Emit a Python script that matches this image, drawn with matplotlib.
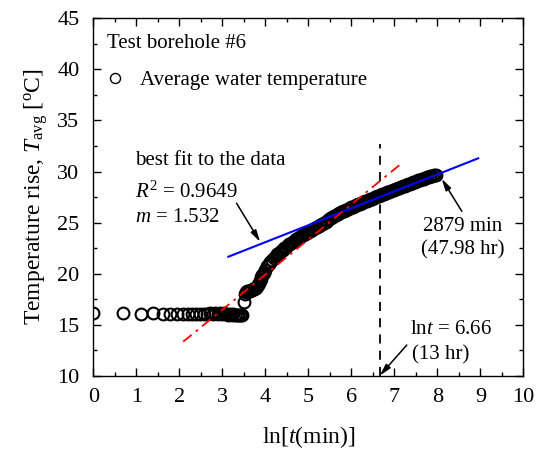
import numpy as np
import matplotlib
matplotlib.use("Agg")
import matplotlib.pyplot as plt
from matplotlib.ticker import MultipleLocator

# ================== data ==================
# early readings, one per minute (t = 1..33 min)
t_early = list(range(1, 34))
temp_early = [16.1, 16.1, 16.0, 16.1, 16.0, 16.0, 16.0, 16.0, 16.0, 16.0,
              16.0, 16.0, 16.0, 16.0, 16.1, 16.0, 16.1, 16.0, 16.1, 16.0,
              16.1, 16.0, 15.9, 16.0, 15.9, 16.0, 15.9, 15.9, 15.9, 15.9,
              15.9, 15.9, 17.2]

lnt_late = [3.53, 3.56, 3.58, 3.61, 3.64, 3.66, 3.69, 3.71, 3.74, 3.76,
            3.78, 3.81, 3.83, 3.85, 3.87, 3.89, 3.91, 3.93, 3.96, 4.00,
            4.04, 4.08, 4.12, 4.16, 4.20, 4.24, 4.28, 4.32, 4.36, 4.40,
            4.44, 4.48, 4.52, 4.56, 4.60, 4.64, 4.68, 4.72, 4.76, 4.80,
            4.84, 4.88, 4.92, 4.96, 5.00, 5.04, 5.08, 5.12, 5.16, 5.20,
            5.24, 5.28, 5.32, 5.36, 5.40, 5.44, 5.48, 5.52, 5.56, 5.60,
            5.64, 5.68, 5.72, 5.76, 5.80, 5.84, 5.88, 5.92, 5.96, 6.00,
            6.04, 6.08, 6.12, 6.16, 6.20, 6.24, 6.28, 6.32, 6.36, 6.40,
            6.44, 6.48, 6.52, 6.56, 6.60, 6.64, 6.68, 6.72, 6.76, 6.80,
            6.84, 6.88, 6.92, 6.96, 7.00, 7.04, 7.08, 7.12, 7.16, 7.20,
            7.24, 7.28, 7.32, 7.36, 7.40, 7.44, 7.48, 7.52, 7.56, 7.60,
            7.64, 7.68, 7.72, 7.76, 7.80, 7.84, 7.88, 7.92, 7.965]
temp_late = [18.0, 18.2, 18.3, 18.3, 18.3, 18.4, 18.4, 18.5, 18.5, 18.6,
             18.6, 18.8, 18.9, 19.1, 19.3, 19.5, 19.7, 19.9, 20.1, 20.4,
             20.7, 20.9, 21.1, 21.3, 21.5, 21.7, 21.9, 22.0, 22.2, 22.3,
             22.5, 22.6, 22.8, 22.9, 23.0, 23.1, 23.3, 23.4, 23.5, 23.6,
             23.7, 23.8, 23.9, 24.0, 24.1, 24.2, 24.3, 24.4, 24.5, 24.6,
             24.7, 24.8, 24.9, 25.0, 25.1, 25.2, 25.3, 25.4, 25.5, 25.6,
             25.7, 25.8, 25.9, 26.0, 26.1, 26.1, 26.2, 26.3, 26.4, 26.5,
             26.5, 26.6, 26.7, 26.8, 26.8, 26.9, 27.0, 27.1, 27.1, 27.2,
             27.3, 27.3, 27.4, 27.5, 27.6, 27.6, 27.7, 27.8, 27.8, 27.9,
             28.0, 28.0, 28.1, 28.2, 28.2, 28.3, 28.4, 28.4, 28.5, 28.6,
             28.6, 28.7, 28.8, 28.8, 28.9, 29.0, 29.0, 29.1, 29.2, 29.2,
             29.3, 29.3, 29.4, 29.5, 29.5, 29.6, 29.6, 29.7, 29.7]

# fitted lines (end points as drawn)
fit_x = [3.14, 8.95]
fit_y = [21.65, 31.29]
early_fit_x = [2.09, 7.17]
early_fit_y = [13.33, 30.8]

LN_T_MARK = 6.66
MARK_TOP = 32.7
# ==========================================

plt.rcParams['font.family'] = ['Liberation Serif', 'DejaVu Serif']
plt.rcParams['mathtext.fontset'] = 'custom'
plt.rcParams['mathtext.rm'] = 'Liberation Serif'
plt.rcParams['mathtext.it'] = 'Liberation Serif:italic'

fig = plt.figure(figsize=(5.44, 4.59), dpi=100)
ax = fig.add_axes([0.1715, 0.1815, 0.7905, 0.7785])

x_data = list(np.log(t_early)) + lnt_late
y_data = temp_early + temp_late
ax.plot(x_data, y_data, linestyle='none', marker='o', markersize=8.5,
        markerfacecolor='none', markeredgecolor='black', markeredgewidth=1.5,
        label='Average water temperature', zorder=3)

ax.plot(fit_x, fit_y, color='blue', lw=1.5, zorder=4)
ax.plot(early_fit_x, early_fit_y, color='red', lw=1.3,
        dashes=[6, 3, 1.5, 3], zorder=5)
ax.plot([LN_T_MARK, LN_T_MARK], [10, MARK_TOP], color='black', lw=1.3,
        dashes=[5, 4], zorder=2)

ax.set_xlim(0, 10)
ax.set_ylim(10, 45)
ax.xaxis.set_major_locator(MultipleLocator(1))
ax.xaxis.set_minor_locator(MultipleLocator(0.5))
ax.yaxis.set_major_locator(MultipleLocator(5))
ax.yaxis.set_minor_locator(MultipleLocator(2.5))
ax.tick_params(which='both', direction='in', top=True, right=True, width=1.0)
ax.tick_params(which='major', length=6, labelsize=16)
ax.tick_params(which='minor', length=3)
ax.tick_params(axis='x', which='major', pad=9)
ax.tick_params(axis='y', which='major', pad=10)
for s in ax.spines.values():
    s.set_linewidth(1.0)

ax.set_xlabel(r'ln[$t$(min)]', fontsize=17, labelpad=12)
ax.set_ylabel(r'Temperature rise, $T_{\mathrm{avg}}$ [$^{\mathrm{o}}$C]',
              fontsize=17, labelpad=5)

ax.text(0.032, 0.931, 'Test borehole #6', transform=ax.transAxes,
        fontsize=15, va='center', ha='left')
leg = ax.legend(loc='center left', bbox_to_anchor=(0.021, 0.827),
                frameon=False, fontsize=15, handletextpad=0.6,
                borderaxespad=0, borderpad=0, handlelength=1.2,
                markerscale=0.85)
leg.legend_handles[0].set_markeredgewidth(1.0)

arrow = dict(arrowstyle='-|>,head_length=0.7,head_width=0.18', color='black',
             lw=1.1, shrinkA=0, shrinkB=0)
ax.text(0.97, 31.1, 'best fit to the data', fontsize=15, va='center')
ax.text(0.97, 28.0, r'$R^2$ = 0.9649', fontsize=15, va='center')
ax.text(0.97, 25.5, r'$m$ = 1.532', fontsize=15, va='center')
ax.annotate('', xy=(3.88, 23.1), xytext=(3.33, 26.9), arrowprops=arrow)

ax.text(8.6, 24.6, '2879 min', fontsize=15, va='center', ha='center')
ax.text(8.6, 22.3, '(47.98 hr)', fontsize=15, va='center', ha='center')
ax.annotate('', xy=(8.10, 29.3), xytext=(8.57, 26.1), arrowprops=arrow)

ax.text(7.36, 14.5, r'ln$t$ = 6.66', fontsize=15, va='center')
ax.text(7.40, 12.0, '(13 hr)', fontsize=15, va='center')
ax.annotate('', xy=(LN_T_MARK, 10.0), xytext=(7.29, 13.0), arrowprops=arrow)

fig.savefig('out.png', dpi=100)
